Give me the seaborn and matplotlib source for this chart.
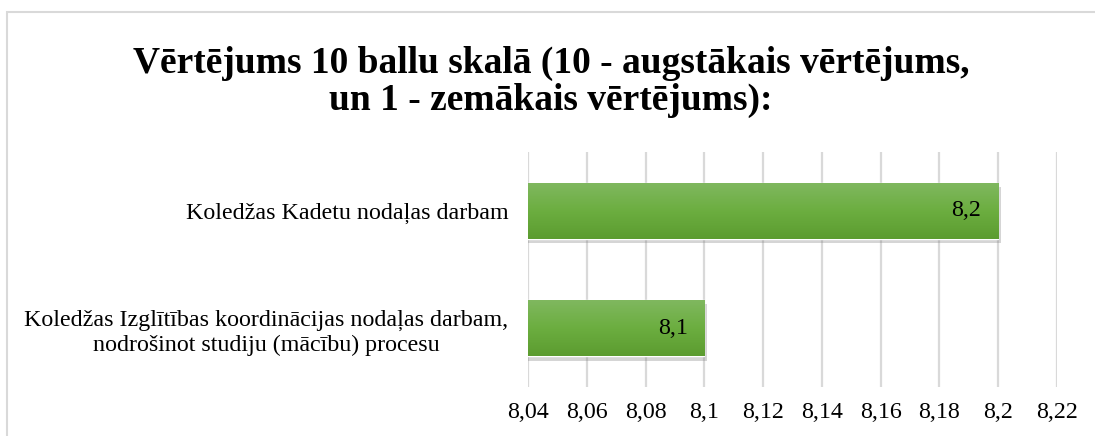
import numpy as np
import pandas as pd
import matplotlib
matplotlib.use('Agg')
import matplotlib.pyplot as plt
import matplotlib.patheffects as pe
from matplotlib.patches import Rectangle
from matplotlib.colors import LinearSegmentedColormap
import seaborn as sns

# data
categories = ['Koledžas Kadetu nodaļas darbam',
              'Koledžas Izglītības koordinācijas nodaļas darbam,\nnodrošinot studiju (mācību) procesu']
scores = [8.2, 8.1]
score_labels = ['8,2', '8,1']
x_ticks = [8.04, 8.06, 8.08, 8.1, 8.12, 8.14, 8.16, 8.18, 8.2, 8.22]
x_tick_labels = ['8,04', '8,06', '8,08', '8,1', '8,12', '8,14', '8,16', '8,18', '8,2', '8,22']
title = 'Vērtējums 10 ballu skalā (10 - augstākais vērtējums,\nun 1 - zemākais vērtējums):'

df = pd.DataFrame({'category': categories, 'score': scores})

sns.set_style('white')
plt.rcParams['font.family'] = ['Liberation Serif', 'DejaVu Serif']
plt.rcParams['text.color'] = 'black'
plt.rcParams['xtick.color'] = 'black'
plt.rcParams['ytick.color'] = 'black'

fs = 17.3

fig = plt.figure(figsize=(10.95, 4.36), dpi=100)
ax = fig.add_axes([528 / 1095, 1 - 387 / 436, (1057 - 528) / 1095, (387 - 152) / 436])

# chart border (cropped at right and bottom)
fig.patches.append(Rectangle((7 / 1095, -0.1), 1.2, 1 - 12 / 436 + 0.1, transform=fig.transFigure,
                             fill=False, edgecolor='#d9d9d9', linewidth=1.5, zorder=0))

sns.barplot(data=df, x='score', y='category', orient='h', color='#6aac40', width=0.48, ax=ax, zorder=3)

xmin, xmax = 8.04, 8.22
ax.set_xlim(xmin, xmax)
ax.set_xticks(x_ticks)
ax.set_xticklabels(x_tick_labels, fontsize=fs)
ax.set_xlabel('')
ax.set_ylabel('')
ax.grid(axis='x', color='#d9d9d9', linewidth=1.6, zorder=0)
ax.grid(axis='y', visible=False)
for s in ax.spines.values():
    s.set_visible(False)
ax.tick_params(axis='x', length=0, pad=11)
ax.tick_params(axis='y', length=0, pad=14, labelsize=fs)
for lbl in ax.get_yticklabels():
    lbl.set_multialignment('center')
    lbl.set_linespacing(1.25)

# gradient fill + soft shadow on bars
cmap = LinearSegmentedColormap.from_list('g', ['#80b860', '#6cae40', '#5c9c30'])
grad = np.linspace(0, 1, 100).reshape(-1, 1)
for patch, lab in zip(ax.patches, score_labels):
    x0, y0 = patch.get_x(), patch.get_y()
    w, h = patch.get_width(), patch.get_height()
    x1 = x0 + w
    patch.set_path_effects([pe.withSimplePatchShadow(offset=(2, -3), shadow_rgbFace='#777777', alpha=0.3)])
    im = ax.imshow(grad, cmap=cmap, aspect='auto', extent=(max(x0, xmin), x1, y0 + h, y0),
                   zorder=4, interpolation='bilinear')
    im.set_clip_path(patch)
    ax.text(x1 - 0.0108, y0 + h / 2, lab, ha='center', va='center', fontsize=fs, zorder=5)

ax.set_ylim(1.5, -0.5)
ax.set_xlim(xmin, xmax)
ax.set_aspect('auto')

fig.text(0.503, 1 - 82 / 436, title, ha='center', va='center', fontsize=27, fontweight='bold',
         linespacing=1.05)

plt.savefig('out.png', dpi=100)
